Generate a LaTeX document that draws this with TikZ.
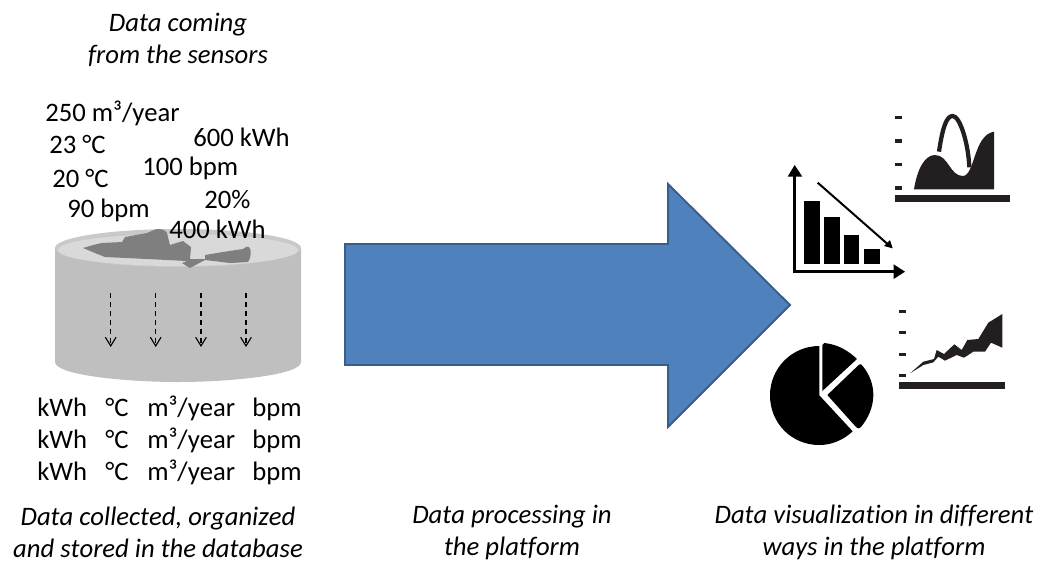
\documentclass[tikz,border=0pt]{standalone}
\usepackage{fontspec}
\setmainfont[Ligatures=NoCommon,Kerning=Off]{Carlito}
\usetikzlibrary{arrows.meta}
\definecolor{sideg}{HTML}{BFBFBF}
\definecolor{rimg}{HTML}{C9C9C9}
\definecolor{topg}{HTML}{D9D9D9}
\definecolor{blobg}{HTML}{7F7F7F}
\definecolor{bluef}{HTML}{4F81BD}
\definecolor{blued}{HTML}{385D8A}
\definecolor{ink}{HTML}{231F20}
\tikzset{
  lab/.style={font=\fontsize{20}{20}\selectfont, inner sep=0pt, text=black, anchor=base west},
  captxt/.style={font=\fontsize{20}{24}\selectfont\itshape, inner sep=0pt, align=center, text=black, anchor=center},
  dashdown/.style={dashed, dash pattern=on 3.7pt off 3pt, line width=0.85pt, -{Straight Barb[length=6.5pt,width=8pt]}}
}
\begin{document}
\begin{tikzpicture}[x=0.75pt,y=-0.75pt]
\useasboundingbox (0,0) rectangle (1040,562);
\fill[white] (0,0) rectangle (1040,562);
% cylinder
\fill[sideg] (55,248) -- (55,362) .. controls (55,375) and (125,382) .. (178,382) .. controls (231,382) and (301,375) .. (301,362) -- (301,248) -- cycle;
\fill[rimg] (178,248) ellipse [x radius=123, y radius=19];
\fill[topg] (178,250) ellipse [x radius=120, y radius=16];
\fill[blobg] (83,248) .. controls (90,246) and (96,244) .. (102,243) -- (122,242) -- (125,237) -- (147,233) .. controls (152,231) and (155,229) .. (158,229) .. controls (163,229) and (166,231) .. (167,233) -- (170,245) -- (183,241) -- (191,247) -- (190,259) -- (205,259) -- (205,255) -- (223,252) -- (243,249) .. controls (245,247) and (248,246) .. (249,247) .. controls (252,250) and (251,258) .. (248,262) -- (230,263) -- (205,260) -- (190,268) -- (182,263) -- (187,261) -- (147,259) -- (105,257) -- (95,253) -- cycle;
% dashed arrows
\coordinate (a1s) at (110.7,293); \coordinate (a1e) at (110.7,347);
\coordinate (a2s) at (155.7,293); \coordinate (a2e) at (155.7,347);
\coordinate (a3s) at (201,293); \coordinate (a3e) at (201,347);
\coordinate (a4s) at (246,293); \coordinate (a4e) at (246,347);
\draw[dashdown] (a1s) -- (a1e);
\draw[dashdown] (a2s) -- (a2e);
\draw[dashdown] (a3s) -- (a3e);
\draw[dashdown] (a4s) -- (a4e);
% big arrow
\draw[fill=bluef, draw=blued, line width=1.4pt] (345,244) -- (668,244) -- (668,184) -- (790,305) -- (668,427) -- (668,365) -- (345,365) -- cycle;
% captions and values
\node[captxt] (t1) at (178,40) {Data coming\\from the sensors};
\node[lab] (v1) at (45,121) {250 m³/year};
\node[lab] (v2) at (49,153) {23 °C};
\node[lab] (v3) at (193,146) {600 kWh};
\node[lab] (v4) at (142,175) {100 bpm};
\node[lab] (v5) at (52,187) {20 °C};
\node[lab] (v6) at (204,208) {20\%};
\node[lab] (v7) at (67,217) {90 bpm};
\node[lab] (v8) at (169,238) {400 kWh};
\node[lab] (r1a) at (37,416) {kWh};
\node[lab] (r1b) at (105,416) {°C};
\node[lab] (r1c) at (147,416) {m³/year};
\node[lab] (r1d) at (252,416) {bpm};
\node[lab] (r2a) at (37,448) {kWh};
\node[lab] (r2b) at (105,448) {°C};
\node[lab] (r2c) at (147,448) {m³/year};
\node[lab] (r2d) at (252,448) {bpm};
\node[lab] (r3a) at (37,480) {kWh};
\node[lab] (r3b) at (105,480) {°C};
\node[lab] (r3c) at (147,480) {m³/year};
\node[lab] (r3d) at (252,480) {bpm};
\node[captxt] (c1) at (158,532) {Data collected, organized\\and stored in the database};
\node[captxt] (c2) at (512,532) {Data processing in\\the platform};
\node[captxt] (c3) at (874,532) {Data visualization in different\\ways in the platform};
% bar chart and area chart
\begin{scope}[shift={(760,80)},x=0.25pt,y=-0.25pt]
\fill[black] (132,362) rectangle (180,553);
\fill[black] (192,410) rectangle (240,553);
\fill[black] (252,466) rectangle (298,553);
\fill[black] (312,507) rectangle (360,553);
\draw[black, line width=2.5pt] (104,285) -- (104,575) -- (410,575);
\fill[black] (104,255) -- (127,290) -- (83,290) -- cycle;
\fill[black] (435,575) -- (401,553) -- (401,597) -- cycle;
\draw[black, line width=1.5pt] (173,308) -- (385,494);
\fill[black] (398,505) -- (372,498) -- (390,480) -- cycle;
\foreach \yy in {113,183,254,324} \fill[ink] (405,\yy-5) rectangle (427,\yy+5);
\fill[ink] (404,345) rectangle (750,367);
\fill[ink] (462,328) .. controls (472,265) and (495,225) .. (525,225) .. controls (565,225) and (570,288) .. (608,288) .. controls (645,288) and (640,165) .. (702,155) -- (702,328) -- cycle;
\draw[ink, line width=3.2pt] (537,215) .. controls (548,140) and (560,108) .. (578,108) .. controls (600,108) and (625,190) .. (628,262);
\end{scope}
% pie and line chart
\begin{scope}[shift={(760,290)},x=0.25pt,y=-0.25pt]
\fill[black] (178,168) .. controls (95,168) and (30,235) .. (30,316) .. controls (30,400) and (95,465) .. (178,465) .. controls (215,465) and (250,450) .. (278,424) -- (178,316) -- cycle;
\fill[black] (187,303) -- (187,165) .. controls (190,158) and (195,158) .. (200,160) .. controls (235,165) and (265,182) .. (291,207) -- cycle;
\fill[black] (202,315) -- (296,225) .. controls (300,220) and (305,222) .. (308,228) .. controls (330,255) and (340,285) .. (340,315) .. controls (340,350) and (325,385) .. (302,412) .. controls (298,417) and (292,416) .. (288,411) -- cycle;
\foreach \yy in {65,128,193,257} \fill[ink] (418,\yy-5) rectangle (438,\yy+5);
\fill[ink] (418,275) rectangle (735,296);
\fill[ink] (450,250) -- (490,215) -- (522,207) -- (530,180) -- (552,192) -- (583,163) -- (605,180) -- (622,150) -- (655,147) -- (685,98) -- (727,72) -- (727,173) -- (693,158) -- (675,185) -- (640,185) -- (612,203) -- (590,195) -- (555,212) -- (535,200) -- (520,217) -- (490,225) -- cycle;
\end{scope}
\end{tikzpicture}
\end{document}
